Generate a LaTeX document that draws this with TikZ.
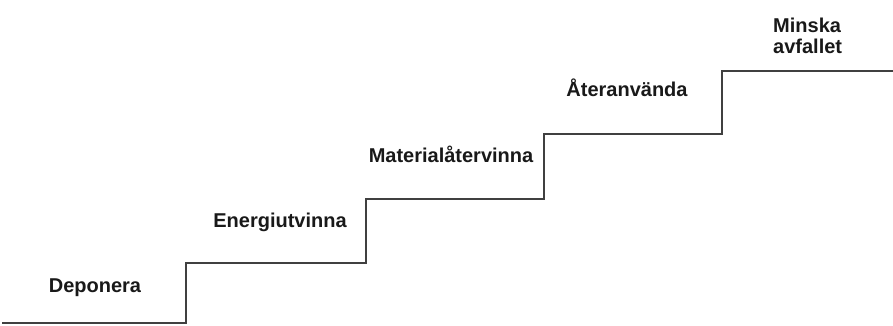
\documentclass[tikz,border=0pt]{standalone}
\usepackage{fontspec}
\setmainfont{Liberation Sans}
\begin{document}
\begin{tikzpicture}[x=1pt,y=-1pt,
  lbl/.style={anchor=base,inner sep=0pt,font=\fontsize{20}{21}\selectfont\bfseries,text=black!90},
  stair/.style={draw=black!75,line width=2.2pt}]
\useasboundingbox (0,0) rectangle (893,326);
\fill[white] (0,0) rectangle (893,326);
\coordinate (s0) at (2,323);
\coordinate (s1) at (186,323);
\coordinate (s2) at (186,263);
\coordinate (s3) at (366,263);
\coordinate (s4) at (366,199);
\coordinate (s5) at (544,199);
\coordinate (s6) at (544,134);
\coordinate (s7) at (722,134);
\coordinate (s8) at (722,71);
\coordinate (s9) at (893,71);
\draw[stair] (s0) -- (s1) -- (s2) -- (s3) -- (s4) -- (s5) -- (s6) -- (s7) -- (s8) -- (s9);
\node[lbl] (dep) at (95,292) {Deponera};
\node[lbl] (ene) at (280,227) {Energiutvinna};
\node[lbl] (mat) at (451,162) {Materialåtervinna};
\node[lbl] (ate) at (627,96) {Återanvända};
\node[lbl,anchor=base west] (min1) at (773,33) {Minska};
\node[lbl,anchor=base west] (min2) at (773,54) {avfallet};
\end{tikzpicture}
\end{document}
